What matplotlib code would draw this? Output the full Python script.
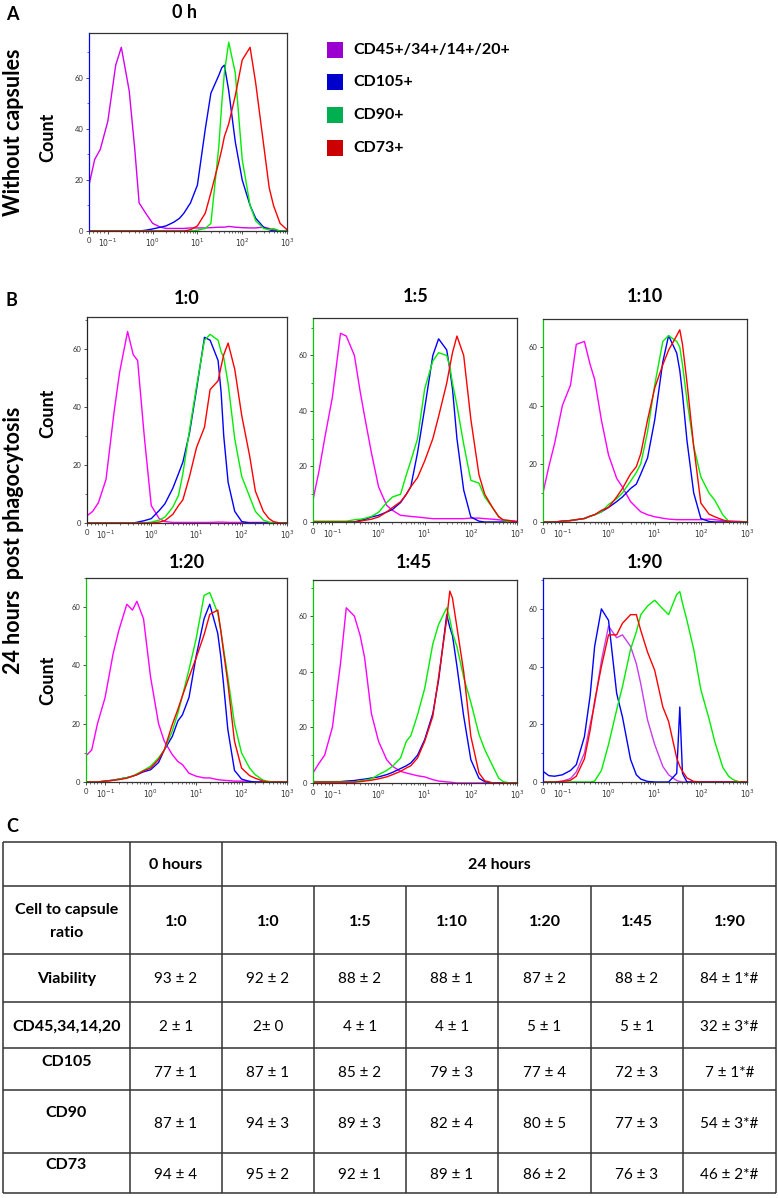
import matplotlib
matplotlib.use("Agg")
import matplotlib.pyplot as plt
from matplotlib.ticker import FixedLocator, MultipleLocator

plt.rcParams['font.family'] = ['Lato', 'DejaVu Sans']

W, H = 778, 1198

# fluorescence channel values shared by every histogram
x_fl = [0, 0.03, 0.06, 0.1, 0.15, 0.2, 0.3, 0.4, 0.5, 0.7, 1, 1.5, 2, 3, 4, 5, 7,
        10, 15, 20, 30, 35, 40, 50, 70, 100, 150, 200, 300, 400, 500, 700, 1000]

# counts (CD45+/34+/14+/20+, CD105+, CD90+, CD73+)
cd45_0h = [18, 28, 32, 43, 65, 72, 55, 32, 11, 7, 3, 1.5, 1, 1, 1, 1, 1.2, 1.2, 1.2,
           1.3, 1.5, 1.5, 1.5, 1.8, 1.5, 1.3, 1.2, 1.2, 1.5, 1, 0.5, 0, 0]
cd105_0h = [0, 0, 0, 0, 0, 0, 0, 0, 0, 0.3, 0.8, 1.5, 2, 3.5, 5, 7, 11, 18, 40, 54, 61,
            64, 65, 55, 35, 20, 10, 5, 1.5, 0.5, 0, 0, 0]
cd90_0h = [0, 0, 0, 0, 0, 0, 0, 0, 0, 0, 0, 0, 0, 0, 0, 0, 0, 0.3, 1, 3, 33, 50, 62, 74,
           62, 28, 10, 4, 1, 0.5, 1, 0, 0]
cd73_0h = [0, 0, 0, 0, 0, 0, 0, 0, 0, 0, 0, 0, 0, 0, 0, 0, 0.5, 2, 7, 15, 27, 32, 37, 42,
           53, 67, 72, 58, 34, 17, 10, 3, 0.5]

cd45_r0 = [2.5, 4, 7, 15, 38, 52, 66, 58, 56, 30, 6, 1.5, 0.5, 0.2, 0.2, 0.2, 0.2, 0.2,
           0.2, 0.2, 0.3, 0.3, 0.3, 0.2, 0.2, 0.2, 0.2, 0.2, 0.2, 0.2, 0.1, 0, 0]
cd105_r0 = [0, 0, 0, 0, 0, 0, 0, 0, 0.3, 0.8, 1.5, 4.3, 6.6, 12, 17, 21, 31, 46, 64, 63,
            56, 45, 30, 14, 4, 0.5, 0, 0, 0, 0, 0, 0, 0]
cd90_r0 = [0, 0, 0, 0, 0, 0, 0, 0, 0, 0, 0.3, 1, 2, 5.5, 9.5, 17, 32, 47, 63, 65, 63, 59,
           57, 48, 29, 16, 9, 4, 1, 0.3, 0, 0, 0]
cd73_r0 = [0, 0, 0, 0, 0, 0, 0, 0, 0, 0, 0, 0.3, 0.8, 3, 6, 8, 16, 26, 33, 46, 49, 54, 58,
           62, 53, 37, 23, 11, 4, 1.5, 0.5, 0, 0]

cd45_r5 = [8, 18, 30, 45, 68, 67, 60, 47, 38, 25, 12.7, 6, 4.2, 2.4, 2.2, 2, 1.8, 1.5,
           1.2, 1.2, 1.2, 1.2, 1.2, 1.2, 1.2, 1.4, 1.4, 1.2, 1, 0.8, 0.6, 0.5, 0.3]
cd105_r5 = [0, 0, 0, 0, 0, 0, 0, 0.6, 0.9, 1.8, 2.4, 3.6, 4.5, 7, 10, 12.7, 25, 41, 60, 66,
            62, 55, 48, 30, 11.5, 1.8, 0.3, 0, 0, 0, 0, 0, 0]
cd90_r5 = [0.3, 0.3, 0.3, 0.3, 0.3, 0.3, 0.8, 1, 1.3, 2, 3.5, 7, 9, 10, 17, 22, 30, 48, 58,
           61, 60, 56, 50, 42, 28, 15, 14, 9, 5, 1.8, 0.6, 0, 0]
cd73_r5 = [0, 0, 0, 0, 0, 0, 0, 0.3, 0.6, 1, 1.8, 3.6, 5.2, 7.3, 10, 12.7, 16, 22, 30, 38,
           50, 56, 61, 67, 60, 37, 17, 10, 5, 2, 0.8, 0.5, 0]

cd45_r10 = [10, 19, 27, 40, 47, 61, 62, 54, 49, 35, 23, 15, 12, 7, 5, 3.5, 2.5, 1.8, 1.3,
            1, 0.8, 0.8, 0.8, 0.8, 0.8, 0.8, 1, 0.8, 0.5, 0.4, 0.3, 0.2, 0]
cd105_r10 = [0, 0, 0, 0.3, 0.5, 0.8, 1.2, 2, 2.5, 3.5, 5, 7, 8.6, 11.5, 13, 16.5, 22, 35,
             55, 64, 58, 52, 44, 28, 10, 1.2, 0.2, 0, 0, 0, 0, 0, 0]
cd90_r10 = [0, 0, 0, 0.2, 0.5, 0.8, 1.2, 2, 2.5, 3.5, 6, 8, 10, 14, 17, 20, 31, 47, 62,
            64, 62, 60, 54, 42, 26, 15.5, 10, 7.5, 2.4, 0.3, 0, 0, 0]
cd73_r10 = [0, 0, 0, 0.3, 0.5, 0.8, 1.2, 2, 2.5, 4, 5, 8.6, 11.5, 16.5, 19, 23.5, 35, 46,
            54, 59, 64, 66, 61, 48, 26, 6.5, 2.7, 1.8, 0.7, 0.2, 0, 0, 0]

cd45_r20 = [9, 11, 20, 29, 44, 52, 61, 59, 62, 56, 36, 20, 14, 9.4, 7, 6, 3, 2, 1.4, 1.4,
            0.8, 0.7, 0.6, 0.5, 0.3, 0.3, 0.2, 0, 0, 0, 0, 0, 0]
cd105_r20 = [0, 0, 0, 0.3, 0.6, 1, 1.5, 2, 2.5, 3.5, 4.2, 6.7, 11, 15.6, 21, 23, 29, 43,
             56, 61, 51, 43, 34, 18, 4, 1, 0.2, 0, 0, 0, 0, 0, 0]
cd90_r20 = [0, 0, 0, 0.3, 0.6, 1, 1.5, 2, 2.8, 4, 5.4, 8.3, 11, 17.5, 23.7, 29.5, 38.6, 49,
            64, 65, 58, 52, 46, 36, 20, 10, 4.8, 2.5, 0.6, 0.2, 0, 0, 0]
cd73_r20 = [0, 0, 0, 0.3, 0.6, 0.8, 1.3, 2, 2.5, 3.8, 4.8, 7.7, 11, 19.7, 25, 29.5, 36,
            42.5, 50.5, 57.5, 59, 52, 45, 34, 14, 4.8, 2.2, 1.3, 0.3, 0, 0, 0, 0]

cd45_r45 = [3.6, 7, 10, 20, 43, 63, 60, 53, 45, 25, 15, 8.4, 6, 4.2, 3.6, 3.2, 2.6, 2.2,
            1.2, 0.7, 0.4, 0.3, 0.2, 0, 0, 0, 0, 0, 0, 0, 0, 0, 0]
cd105_r45 = [0.5, 0.5, 0.5, 0.5, 0.5, 0.7, 0.9, 1.2, 1.4, 1.8, 2.2, 3, 3.8, 5.2, 6.2, 7.2,
             10, 15.6, 25, 37, 60.5, 56, 53, 42, 24, 8.4, 1.7, 0.5, 0, 0, 0, 0, 0]
cd90_r45 = [0.4, 0.4, 0.4, 0.4, 0.4, 0.4, 0.4, 0.8, 1, 1.5, 3, 4.5, 6, 9, 15, 17, 24.5, 34,
            50, 57, 63, 59, 54, 49, 38, 29, 17.5, 12, 6, 1.8, 0.5, 0, 0]
cd73_r45 = [0.3, 0.3, 0.3, 0.3, 0.3, 0.3, 0.3, 0.5, 0.7, 1, 1.5, 2.2, 3, 4.2, 5.4, 6.2, 9,
            15, 24, 38, 59, 69, 66.5, 56, 40, 16.8, 3.6, 0.8, 0, 0, 0, 0, 0]

cd45_r90 = [0, 0, 0, 0.3, 1.2, 3.5, 10, 20, 27, 42, 54, 50, 51, 47, 41, 34, 21.5, 13, 5.4,
            2.5, 0.5, 0.2, 0, 0, 0, 0, 0, 0, 0, 0, 0, 0, 0]
cd105_r90 = [3.7, 2.2, 2, 2.5, 4, 6, 15.7, 30, 47, 60, 56, 30.7, 22.6, 7.8, 2.5, 1, 0.2, 0,
             0, 0, 3, 26, 3, 0, 0, 0, 0, 0, 0, 0, 0, 0, 0]
cd90_r90 = [0, 0, 0, 0, 0, 0, 0, 0, 0.3, 4, 13, 25, 33, 46, 52, 58, 61, 63, 60, 58, 65, 66,
            62, 56, 46, 32, 22, 14, 5, 2, 0.8, 0, 0]
cd73_r90 = [0, 0, 0, 0.2, 0.6, 2, 8, 18, 28, 40, 51, 51, 55, 58, 58, 52.5, 45, 38.7, 26,
            21, 8.3, 5.4, 3.7, 1.4, 0.2, 0, 0, 0, 0, 0, 0, 0, 0]

x_ticks = [0, 0.1, 1, 10, 100, 1000]
x_ticklabels = ['0', r'$10^{-1}$', r'$10^{0}$', r'$10^{1}$', r'$10^{2}$', r'$10^{3}$']
y_ticks = [0, 20, 40, 60]

legend_labels = ['CD45+/34+/14+/20+', 'CD105+', 'CD90+', 'CD73+']
legend_cols = ['#9a00d0', '#0000cc', '#00b050', '#cc0000']

# table C
ratio_cols = ['1:0', '1:0', '1:5', '1:10', '1:20', '1:45', '1:90']
row_names = ['Viability', 'CD45,34,14,20', 'CD105', 'CD90', 'CD73']
viability = ['93 ± 2', '92 ± 2', '88 ± 2', '88 ± 1', '87 ± 2', '88 ± 2', '84 ± 1*#']
cd45_pct = ['2 ± 1', '2± 0', '4 ± 1', '4 ± 1', '5 ± 1', '5 ± 1', '32 ± 3*#']
cd105_pct = ['77 ± 1', '87 ± 1', '85 ± 2', '79 ± 3', '77 ± 4', '72 ± 3', '7 ± 1*#']
cd90_pct = ['87 ± 1', '94 ± 3', '89 ± 3', '82 ± 4', '80 ± 5', '77 ± 3', '54 ± 3*#']
cd73_pct = ['94 ± 4', '95 ± 2', '92 ± 1', '89 ± 1', '86 ± 2', '76 ± 3', '46 ± 2*#']
table_rows = [viability, cd45_pct, cd105_pct, cd90_pct, cd73_pct]

# layout (pixels): title, title x, title y, axes box, y top, left spine colour, magenta
panels = [
    ('0 h', 185, 13, (89, 33, 287, 231), 77.6, '#0000ff', '#d600f0',
     [cd45_0h, cd105_0h, cd90_0h, cd73_0h]),
    ('1:0', 187, 299, (87, 317, 287, 523), 71, '#222222', '#ff00ff',
     [cd45_r0, cd105_r0, cd90_r0, cd73_r0]),
    ('1:5', 416, 297, (313, 318, 517, 522), 73.5, '#00cc00', '#ff00ff',
     [cd45_r5, cd105_r5, cd90_r5, cd73_r5]),
    ('1:10', 645, 297, (543, 319, 747, 522), 69.7, '#00cc00', '#ff00ff',
     [cd45_r10, cd105_r10, cd90_r10, cd73_r10]),
    ('1:20', 187, 563, (86, 578, 287, 782), 70, '#00cc00', '#ff00ff',
     [cd45_r20, cd105_r20, cd90_r20, cd73_r20]),
    ('1:45', 414, 563, (313, 580, 517, 783), 73, '#00cc00', '#ff00ff',
     [cd45_r45, cd105_r45, cd90_r45, cd73_r45]),
    ('1:90', 645, 563, (543, 578, 747, 782), 70.7, '#0000ff', '#c73cf0',
     [cd45_r90, cd105_r90, cd90_r90, cd73_r90]),
]

minor_x = [k * 10.0 ** e for e in range(-1, 3) for k in range(2, 10)]
minor_x += [0.02, 0.04, 0.06, 0.08]

fig = plt.figure(figsize=(W / 100, H / 100), dpi=100)


def px_axes(x0, y0, x1, y1):
    return fig.add_axes([x0 / W, 1 - y1 / H, (x1 - x0) / W, (y1 - y0) / H])


bg = fig.add_axes([0, 0, 1, 1])
bg.set_xlim(0, W)
bg.set_ylim(H, 0)
bg.axis('off')

for title, tx, ty, box, ytop, spcol, mag, curves in panels:
    ax = px_axes(*box)
    cols = [mag, '#0000ff', '#00ee00', '#ff0000']
    for yv, c in zip(curves, cols):
        ax.plot(x_fl, yv, color=c, lw=1.0)
    ax.set_xscale('symlog', linthresh=0.1, linscale=0.378)
    ax.set_xlim(0, 1000)
    ax.set_ylim(0, ytop)
    ax.set_xticks(x_ticks, labels=x_ticklabels)
    ax.xaxis.set_minor_locator(FixedLocator(minor_x))
    ax.set_yticks(y_ticks)
    ax.yaxis.set_minor_locator(MultipleLocator(10))
    ax.tick_params(labelsize=5.5, colors='#333333', pad=1.5, length=2.5, width=0.6)
    ax.tick_params(which='minor', length=1.5, width=0.5, colors='#333333')
    for s in ax.spines.values():
        s.set_linewidth(0.9)
        s.set_color('#333333')
    ax.spines['left'].set_color(spcol)
    bg.text(tx, ty, title, ha='center', va='center', fontsize=13, fontweight='bold')

# count labels and side labels
for cy in [137, 413, 680]:
    bg.text(48, cy, 'Count', rotation=90, ha='center', va='center',
            fontsize=13, fontweight='bold')
bg.text(14, 132, 'Without capsules', rotation=90, ha='center', va='center',
        fontsize=15.5, fontweight='bold')
bg.text(14, 540, '24 hours  post phagocytosis', rotation=90, ha='center', va='center',
        fontsize=15.5, fontweight='bold')
for lab, lx, ly in [('A', 12, 14), ('B', 11, 300), ('C', 12, 826)]:
    bg.text(lx, ly, lab, ha='center', va='center', fontsize=13, fontweight='bold')

# legend of panel A
for i, (lab, c) in enumerate(zip(legend_labels, legend_cols)):
    yc = [50, 82, 115, 148][i]
    bg.add_patch(plt.Rectangle((327, yc - 8), 16, 16, color=c, lw=0))
    bg.text(353, yc, lab, ha='left', va='center', fontsize=11.5, fontweight='bold')

# table C
col_x = [3, 130, 222, 314, 406, 498, 591, 683, 776]
row_y = [842, 886, 954, 1002, 1048, 1090, 1153, 1193]
lc = '#333333'
bg.hlines(row_y, col_x[0], col_x[-1], color=lc, lw=1.1)
for xv in [col_x[0], col_x[1], col_x[2], col_x[-1]]:
    bg.vlines(xv, row_y[0], row_y[-1], color=lc, lw=1.1)
for xv in col_x[3:-1]:
    bg.vlines(xv, row_y[1], row_y[-1], color=lc, lw=1.1)

centers = [(col_x[i] + col_x[i + 1]) / 2 for i in range(len(col_x) - 1)]
bg.text(centers[1], 865, '0 hours', ha='center', va='center', fontsize=11.5,
        fontweight='bold')
bg.text((col_x[2] + col_x[-1]) / 2, 865, '24 hours', ha='center', va='center',
        fontsize=11.5, fontweight='bold')
bg.text(centers[0], 910, 'Cell to capsule', ha='center', va='center', fontsize=11.5,
        fontweight='bold')
bg.text(centers[0], 933, 'ratio', ha='center', va='center', fontsize=11.5,
        fontweight='bold')
for cx, lab in zip(centers[1:], ratio_cols):
    bg.text(cx, 922, lab, ha='center', va='center', fontsize=11.5, fontweight='bold')

label_y = [979, 1027, 1062, 1113, 1165]
value_y = [979, 1027, 1073, 1124, 1175]
for name, vals, ly, vy in zip(row_names, table_rows, label_y, value_y):
    bg.text(centers[0], ly, name, ha='center', va='center', fontsize=11.5,
            fontweight='bold')
    for cx, v in zip(centers[1:], vals):
        bg.text(cx, vy, v, ha='center', va='center', fontsize=11)

fig.savefig('out.png', dpi=100)
